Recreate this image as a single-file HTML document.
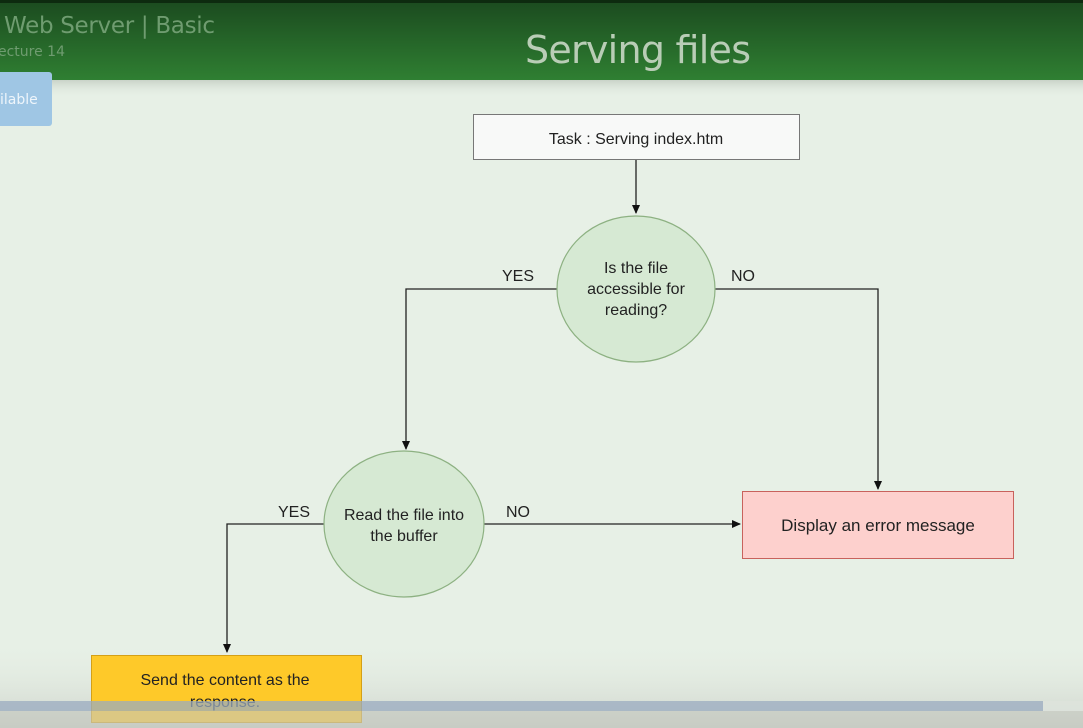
<!DOCTYPE html>
<html><head><meta charset="utf-8"><style>
html,body{margin:0;padding:0;width:1083px;height:728px;overflow:hidden;background:#e7f0e6;}
svg{display:block;font-family:"Liberation Sans",sans-serif;}
</style></head><body>
<svg width="1083" height="728" viewBox="0 0 1083 728" xmlns="http://www.w3.org/2000/svg">
<defs>
<linearGradient id="hd" x1="0" y1="0" x2="0" y2="1">
<stop offset="0" stop-color="#1b4a1f"/><stop offset="1" stop-color="#2f7f32"/>
</linearGradient>
<linearGradient id="sh" x1="0" y1="0" x2="0" y2="1">
<stop offset="0" stop-color="#c9d3c8"/><stop offset="1" stop-color="#e7f0e6" stop-opacity="0"/>
</linearGradient>
<linearGradient id="bt" x1="0" y1="0" x2="0" y2="1">
<stop offset="0" stop-color="#e7f0e6" stop-opacity="0"/><stop offset="1" stop-color="#cdd2ca"/>
</linearGradient>
<marker id="ar" markerWidth="10" markerHeight="10" refX="8" refY="4" orient="auto" markerUnits="userSpaceOnUse">
<path d="M0,0 L9,4 L0,8 Z" fill="#111"/></marker>
</defs>
<rect width="1083" height="728" fill="#e7f0e6"/>
<rect y="80" width="1083" height="18" fill="url(#sh)"/>
<rect y="640" width="1083" height="88" fill="url(#bt)"/>
<rect width="1083" height="80" fill="url(#hd)"/>
<rect width="1083" height="3" fill="#0d2a0f"/>
<text x="4" y="33" font-size="23" fill="#6f9c70" font-family="DejaVu Sans,sans-serif" textLength="211">Web Server | Basic</text>
<text x="-2" y="56" font-size="14" fill="#6f9c70" font-family="DejaVu Sans,sans-serif">ecture 14</text>
<text x="638" y="63" font-size="38" fill="#b9cdb6" text-anchor="middle" font-family="DejaVu Sans,sans-serif" textLength="226">Serving files</text>
<rect x="-5" y="72" width="57" height="54" rx="3" fill="#9fc6e4"/>
<text x="0" y="104" font-size="14" fill="#eef5fb" font-family="DejaVu Sans,sans-serif">ilable</text>

<g stroke="#222" stroke-width="1.3" fill="none">
<line x1="636" y1="160" x2="636" y2="213" marker-end="url(#ar)"/>
<polyline points="557,289 406,289 406,449" marker-end="url(#ar)"/>
<polyline points="715,289 878,289 878,489" marker-end="url(#ar)"/>
<polyline points="324,524 227,524 227,652" marker-end="url(#ar)"/>
<line x1="484" y1="524" x2="740" y2="524" marker-end="url(#ar)"/>
</g>

<rect x="473.5" y="114.5" width="326" height="45" fill="#f8f9f8" stroke="#777"/>
<text x="636" y="144" font-size="16" text-anchor="middle" fill="#222">Task : Serving index.htm</text>

<ellipse cx="636" cy="289" rx="79" ry="73" fill="#d6e9d3" stroke="#8db182" stroke-width="1.2"/>
<g font-size="16" text-anchor="middle" fill="#222">
<text x="636" y="273">Is the file</text>
<text x="636" y="294">accessible for</text>
<text x="636" y="315">reading?</text>
</g>
<ellipse cx="404" cy="524" rx="80" ry="73" fill="#d6e9d3" stroke="#8db182" stroke-width="1.2"/>
<g font-size="16" text-anchor="middle" fill="#222">
<text x="404" y="520">Read the file into</text>
<text x="404" y="541">the buffer</text>
</g>
<g font-size="16" text-anchor="middle" fill="#222">
<text x="518" y="281">YES</text>
<text x="743" y="281">NO</text>
<text x="294" y="517">YES</text>
<text x="518" y="517">NO</text>
</g>

<rect x="742.5" y="491.5" width="271" height="67" fill="#fdd0cd" stroke="#c8625c"/>
<text x="878" y="531" font-size="17" text-anchor="middle" fill="#222">Display an error message</text>

<rect x="91.5" y="655.5" width="270" height="67" fill="#fec929" stroke="#d4a017"/>
<text x="225" y="685" font-size="16" text-anchor="middle" fill="#222">Send the content as the</text>
<text x="225" y="707" font-size="16" text-anchor="middle" fill="#222">response.</text>

<rect x="0" y="701" width="1043" height="10" fill="#9aabc0" opacity="0.75"/>
<rect x="1043" y="701" width="40" height="10" fill="#dde3dc" opacity="0.8"/>
<rect x="0" y="711" width="1083" height="17" fill="#c4c8c0" opacity="0.6"/>
</svg>
</body></html>
